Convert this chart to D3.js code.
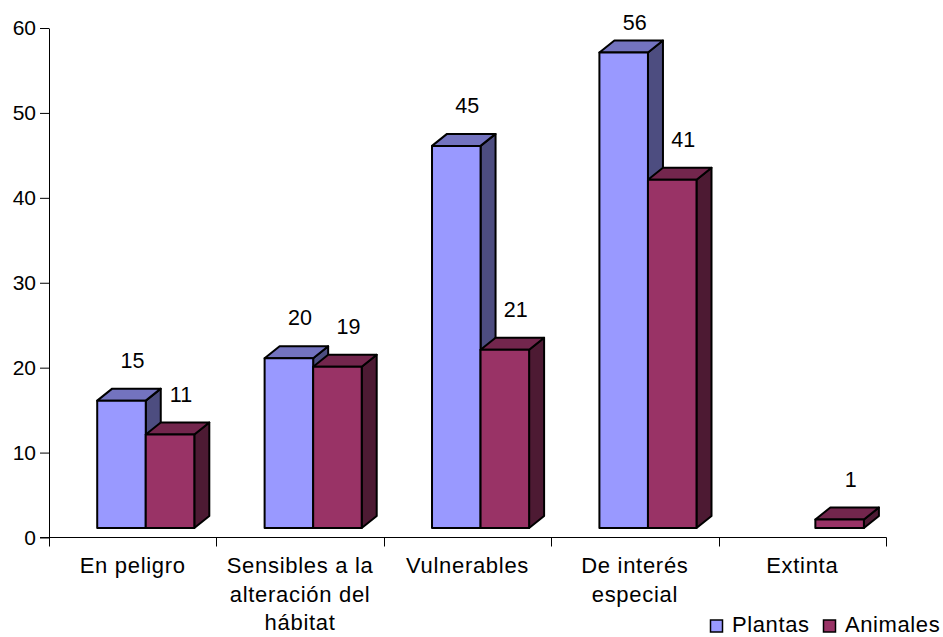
<!DOCTYPE html>
<html>
<head>
<meta charset="utf-8">
<script src="https://cdn.jsdelivr.net/npm/d3@7"></script>
<style>
  body { margin: 0; background: #fff; }
  svg text { font-family: "Liberation Sans", Arial, sans-serif; fill: #000; }
</style>
</head>
<body>
<div class="chart"></div>
<script>
var categories = [["En peligro"], ["Sensibles a la", "alteración del", "hábitat"], ["Vulnerables"], ["De interés", "especial"], ["Extinta"]];
var seriesNames = ["Plantas", "Animales"];
var plantas = [15, 20, 45, 56, null];
var animales = [11, 19, 21, 41, 1];
var yTicks = [0, 10, 20, 30, 40, 50, 60];

var width = 943, height = 637;
var colors = {
	Plantas: { front: "#9999ff", top: "#7373bf", side: "#4d4d80" },
	Animales: { front: "#993366", top: "#73264d", side: "#4d1a33" }
};

var svg = d3.select(".chart").append("svg")
	.attr("width", width)
	.attr("height", height);

var yScale = d3.scaleLinear().domain([0, 60]).range([537.5, 28]);
var xScale = d3.scaleBand().domain(d3.range(categories.length)).range([49, 886]);
var xInner = d3.scaleBand().domain(seriesNames).range([0.288, 0.868]);

var depthX = 15, depthY = 12, lift = 9.5;

// axes
var yAxis = d3.axisLeft(yScale).tickValues(yTicks).tickSize(9).tickPadding(4).tickSizeOuter(0);
var gy = svg.append("g").attr("transform", "translate(49,0)").call(yAxis);
gy.select(".domain").attr("stroke", "#000");
gy.selectAll(".tick line").attr("stroke", "#000");
gy.selectAll(".tick text").attr("font-size", "21px").attr("font-family", "Liberation Sans, Arial, sans-serif");

svg.append("line")
	.attr("x1", 40).attr("x2", 886.5)
	.attr("y1", yScale(0)).attr("y2", yScale(0))
	.attr("stroke", "#000");

svg.selectAll(".xtick")
	.data(d3.range(categories.length + 1))
	.enter().append("line")
	.attr("x1", function(i) { return Math.round(49 + i * xScale.bandwidth()) + 0.5; })
	.attr("x2", function(i) { return Math.round(49 + i * xScale.bandwidth()) + 0.5; })
	.attr("y1", yScale(0))
	.attr("y2", yScale(0) + 9)
	.attr("stroke", "#000");

categories.forEach(function(lines, i) {
	var t = svg.append("text")
		.attr("text-anchor", "middle")
		.attr("font-size", "22px")
		.attr("letter-spacing", "0.7px")
		.attr("x", xScale(i) + xScale.bandwidth() / 2)
		.attr("y", 573);
	lines.forEach(function(l, k) {
		t.append("tspan")
			.attr("x", xScale(i) + xScale.bandwidth() / 2)
			.attr("dy", k === 0 ? 0 : 28.7)
			.text(l);
	});
});

// bars
var base = yScale(0) - lift;
var bars = [];
categories.forEach(function(c, i) {
	[plantas, animales].forEach(function(arr, s) {
		if (arr[i] == null) return;
		bars.push({ i: i, name: seriesNames[s], v: arr[i] });
	});
});

bars.forEach(function(b) {
	var bw = xScale.bandwidth();
	var x0 = xScale(b.i) + xInner(b.name) * bw;
	var x1 = x0 + xInner.bandwidth() * bw;
	var top = base - (yScale(0) - yScale(b.v));
	var col = colors[b.name];
	var g = svg.append("g").attr("stroke", "#000").attr("stroke-width", 2).attr("stroke-linejoin", "round");
	g.append("path")
		.attr("d", "M" + x1 + "," + base + "L" + (x1 + depthX) + "," + (base - depthY) + "L" + (x1 + depthX) + "," + (top - depthY) + "L" + x1 + "," + top + "Z")
		.attr("fill", col.side);
	g.append("path")
		.attr("d", "M" + x0 + "," + top + "L" + (x0 + depthX) + "," + (top - depthY) + "L" + (x1 + depthX) + "," + (top - depthY) + "L" + x1 + "," + top + "Z")
		.attr("fill", col.top);
	g.append("rect")
		.attr("x", x0).attr("y", top)
		.attr("width", x1 - x0).attr("height", base - top)
		.attr("fill", col.front);

	svg.append("text")
		.attr("text-anchor", "middle")
		.attr("font-size", "21.5px")
		.attr("x", (x0 + x1) / 2 + 11)
		.attr("y", Math.max(top - depthY - 21, 30))
		.text(b.v);
});

// legend
var legend = svg.append("g").attr("transform", "translate(710,619.5)");
var legX = [0, 113];
seriesNames.forEach(function(n, k) {
	legend.append("rect")
		.attr("x", legX[k] + 0.5).attr("y", 0.5)
		.attr("width", 12).attr("height", 12)
		.attr("fill", colors[n].front)
		.attr("stroke", "#000").attr("stroke-width", 1.5);
	legend.append("text")
		.attr("x", legX[k] + 22)
		.attr("y", 12.5)
		.attr("font-size", "22px")
		.attr("letter-spacing", "0.6px")
		.text(n);
});
</script>
</body>
</html>
